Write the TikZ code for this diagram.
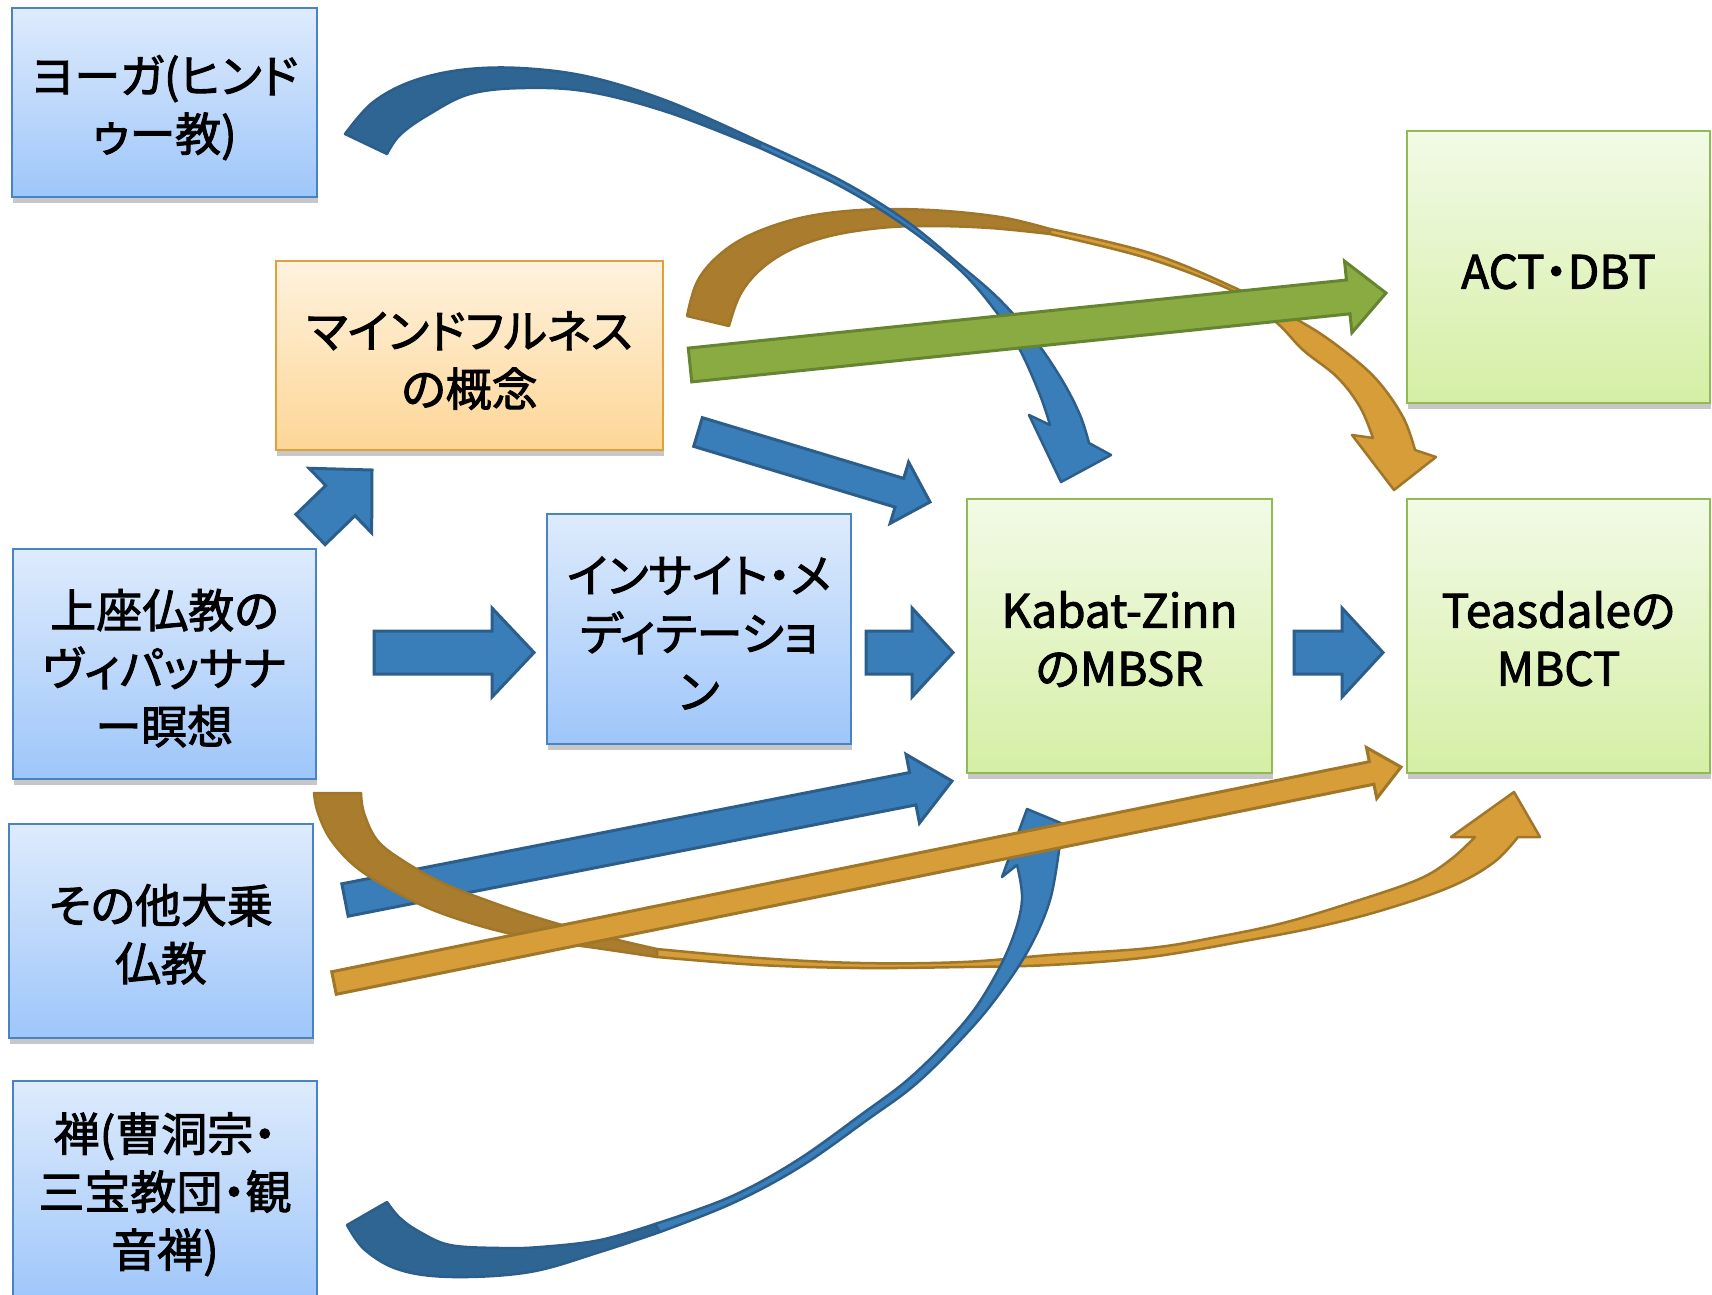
\documentclass[tikz,border=0pt]{standalone}
\usepackage{fontspec}
\newfontfamily\jp[RawFeature={+palt}, FakeBold=2]{Noto Sans CJK JP}
\usetikzlibrary{calc,shadows}
\definecolor{bxblueT}{RGB}{222,235,252}
\definecolor{bxblueB}{RGB}{158,198,250}
\definecolor{bxblueD}{RGB}{72,132,196}
\definecolor{bxorT}{RGB}{255,242,222}
\definecolor{bxorB}{RGB}{253,214,150}
\definecolor{bxorD}{RGB}{226,160,60}
\definecolor{bxgrT}{RGB}{242,250,230}
\definecolor{bxgrB}{RGB}{213,239,165}
\definecolor{bxgrD}{RGB}{145,186,84}
\definecolor{arBlue}{RGB}{58,126,185}
\definecolor{arBlueD}{RGB}{44,94,140}
\definecolor{arBlueDk}{RGB}{47,101,146}
\definecolor{arOr}{RGB}{214,157,56}
\definecolor{arOrD}{RGB}{160,118,40}
\definecolor{arBrown}{RGB}{170,125,46}
\definecolor{arGr}{RGB}{138,170,66}
\definecolor{arGrD}{RGB}{102,133,48}
\newcommand\blockarr[6]{%
  \coordinate (ba-c) at ($(#3)!#6!(#2)$);
  \filldraw[#1] ($(#2)!#4!90:(#3)$) -- ($(ba-c)!#4!-90:(#2)$) -- ($(ba-c)!#5!-90:(#2)$) -- (#3)
    -- ($(ba-c)!#5!90:(#2)$) -- ($(ba-c)!#4!90:(#2)$) -- ($(#2)!#4!-90:(#3)$) -- cycle;}
\newcommand\bxt[2][-10pt]{\raisebox{#1}[\height][\depth]{\begin{tabular}{@{}c@{}}#2\end{tabular}}}
\begin{document}
\begin{tikzpicture}[x=1pt,y=-1pt,
  box/.style={draw, line width=2.5pt, inner sep=0pt,
    font=\jp\fontsize{46}{58}\selectfont,
    drop shadow={shadow xshift=1pt, shadow yshift=-6pt, opacity=0.22, fill=black}},
  bluebox/.style={box, draw=bxblueD, top color=bxblueT, bottom color=bxblueB},
  orbox/.style={box, draw=bxorD, top color=bxorT, bottom color=bxorB},
  grbox/.style={box, draw=bxgrD, top color=bxgrT, bottom color=bxgrB},
  bluearr/.style={fill=arBlue, draw=arBlueD, line width=3pt, line join=miter},
  orarr/.style={fill=arOr, draw=arOrD, line width=3pt, line join=miter},
  grarr/.style={fill=arGr, draw=arGrD, line width=3pt, line join=miter},
  darkband/.style={fill=arBlueDk, draw=arBlueD, line width=2.5pt, line join=round},
  lightband/.style={fill=arBlue, draw=arBlueD, line width=2.5pt, line join=round},
  brownband/.style={fill=arBrown, draw=arOrD, line width=2.5pt, line join=round},
  orband/.style={fill=arOr, draw=arOrD, line width=2.5pt, line join=round}]
\fill[white] (0,0) rectangle (1712,1294);
\useasboundingbox (0,0) rectangle (1712,1294);

% boxes
\node[bluebox, minimum width=305pt, minimum height=189pt] (yoga) at (164.5,102.5) {\bxt[-8pt]{ヨーガ(ヒンド\\ゥー教)}};
\node[orbox, minimum width=387pt, minimum height=189pt] (mind) at (469.5,355.5) {\bxt{マインドフルネス\\の概念}};
\node[bluebox, minimum width=303pt, minimum height=230pt] (joza) at (164.5,664) {\bxt{上座仏教の\\ヴィパッサナ\\ー瞑想}};
\node[bluebox, minimum width=304pt, minimum height=230pt] (insight) at (699,629) {\bxt{インサイト・メ\\ディテーショ\\ン}};
\node[grbox, minimum width=305pt, minimum height=274pt] (kabat) at (1119.5,636) {\bxt[-9pt]{Kabat-Zinn\\のMBSR}};
\node[grbox, minimum width=303pt, minimum height=274pt] (teas) at (1558.5,636) {\bxt[-9pt]{Teasdaleの\\MBCT}};
\node[grbox, minimum width=303pt, minimum height=272pt] (act) at (1558.5,267) {\bxt[-10pt]{ACT・DBT}};
\node[bluebox, minimum width=304pt, minimum height=214pt] (sonota) at (161,931) {\bxt[-9pt]{その他大乗\\仏教}};
\node[bluebox, minimum width=304pt, minimum height=221pt] (zen) at (165,1191.5) {\bxt[-6pt]{禅(曹洞宗・\\三宝教団・観\\音禅)}};

% arrow end points
\coordinate (a1s) at (374,652.5);  \coordinate (a1e) at (534,652.5);
\coordinate (a2s) at (866,652.5);  \coordinate (a2e) at (953,652.5);
\coordinate (a3s) at (1294,652.5); \coordinate (a3e) at (1383,652.5);
\coordinate (a4s) at (310.5,529.5); \coordinate (a4e) at (372,470);
\coordinate (a5s) at (698,432);    \coordinate (a5e) at (930,502);
\coordinate (a6s) at (345,900);    \coordinate (a6e) at (952,781);
\coordinate (a7s) at (334,983);    \coordinate (a7e) at (1401,767);
\coordinate (a8s) at (690,365);    \coordinate (a8e) at (1386,293);

% straight block arrows
\blockarr{bluearr}{a1s}{a1e}{21.5pt}{44.5pt}{42pt}
\blockarr{bluearr}{a2s}{a2e}{21.5pt}{44.5pt}{41pt}
\blockarr{bluearr}{a3s}{a3e}{21.5pt}{44.5pt}{41pt}
\blockarr{bluearr}{a4s}{a4e}{21pt}{45pt}{44pt}
\blockarr{bluearr}{a5s}{a5e}{15pt}{32pt}{32pt}
\blockarr{bluearr}{a6s}{a6e}{16.5pt}{35pt}{40pt}

% orange top arc: mindfulness -> Teasdale
\filldraw[brownband] plot[smooth, tension=0.6] coordinates {(687,316) (697,282) (718,256) (750,235) (800,218) (860,210) (930,210) (1000,217) (1050,229)}
  -- plot[smooth, tension=0.6] coordinates {(1050,234) (990,228) (930,226) (880,228) (830,236) (790,250) (760,270) (740,295) (729,326)} -- cycle;
\filldraw[orband] plot[smooth, tension=0.6] coordinates {(1050,229) (1150,253) (1233,287) (1303,323) (1343,350) (1377,380) (1403,417) (1415,450)}
  -- (1436,457) -- (1394,490) -- (1352,435)
  -- plot[smooth, tension=0.6] coordinates {(1373,438) (1360,407) (1337,377) (1303,350) (1277,323) (1237,293) (1150,259) (1050,234)} -- cycle;

% blue top arc: yoga -> Kabat-Zinn
\filldraw[darkband] plot[smooth, tension=0.6] coordinates {(345,134) (372,103) (410,82) (460,70) (520,68) (590,77) (670,102) (760,142)}
  -- plot[smooth, tension=0.6] coordinates {(760,148) (670,113) (590,92) (525,88) (470,94) (428,115) (400,135) (387,154)} -- cycle;
\filldraw[lightband] plot[smooth, tension=0.6] coordinates {(760,142) (840,180) (905,220) (960,265) (1000,300) (1035,340) (1062,380) (1080,415) (1089,443)}
  -- (1111,455) -- (1061,482) -- (1029,415)
  -- plot[smooth, tension=0.6] coordinates {(1050,425) (1040,395) (1020,350) (997,313) (960,270) (905,226) (840,186) (760,148)} -- cycle;

% green arrow: mindfulness -> ACT/DBT
\blockarr{grarr}{a8s}{a8e}{17pt}{36pt}{38pt}

% orange bottom arc: joza -> Teasdale
\filldraw[brownband] plot[smooth, tension=0.6] coordinates {(314,793) (318,813) (331,840) (356,867) (392,890) (433,910) (484,927) (540,940) (596,948) (657,957)}
  -- plot[smooth, tension=0.6] coordinates {(657,949) (606,937) (545,920) (494,903) (443,883) (402,860) (377,840) (364,813) (361,793)} -- cycle;
\filldraw[orband] plot[smooth, tension=0.6] coordinates {(657,957) (759,965) (861,968) (963,967) (1050,965) (1150,957) (1250,940) (1317,927) (1383,910) (1450,887) (1493,863) (1518,837)}
  -- (1540,837) -- (1514,792) -- (1451,837)
  -- plot[smooth, tension=0.6] coordinates {(1475,837) (1450,860) (1417,880) (1350,903) (1283,923) (1217,937) (1150,948) (1050,955) (963,962) (861,963) (759,958) (657,949)} -- cycle;

% blue bottom arc: zen -> Kabat-Zinn
\filldraw[darkband] plot[smooth, tension=0.6] coordinates {(347,1225) (365,1250) (400,1270) (453,1277) (530,1272) (600,1252) (660,1232)}
  -- plot[smooth, tension=0.6] coordinates {(655,1224) (600,1240) (540,1247) (500,1248) (450,1245) (420,1232) (400,1218) (387,1202)} -- cycle;
\filldraw[lightband] plot[smooth, tension=0.6] coordinates {(660,1232) (733,1203) (800,1167) (867,1120) (917,1083) (967,1033) (1000,993) (1030,947) (1050,900) (1059,850)}
  -- (1068,826) -- (1027,809) -- (1002,877)
  -- plot[smooth, tension=0.6] coordinates {(1017,865) (1022,900) (1012,940) (990,985) (962,1025) (912,1076) (862,1114) (796,1161) (730,1197) (655,1224)} -- cycle;

% orange straight: sonota -> Teasdale
\blockarr{orarr}{a7s}{a7e}{11.5pt}{26pt}{30pt}
\end{tikzpicture}
\end{document}
